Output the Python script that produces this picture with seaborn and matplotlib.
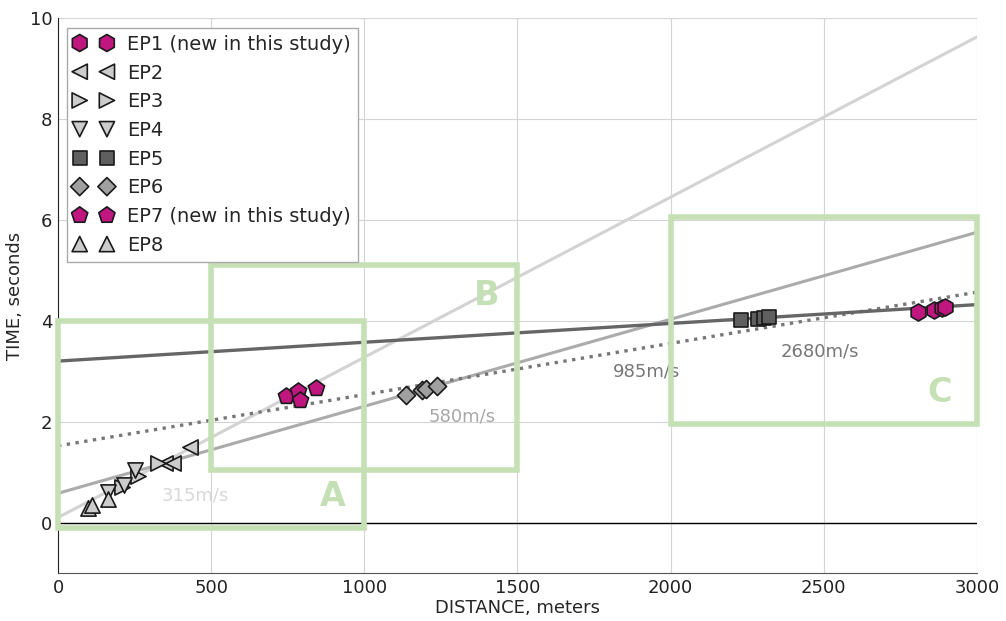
import matplotlib
matplotlib.use("Agg")
import matplotlib.pyplot as plt
import matplotlib.patches as mpatches
import numpy as np
import pandas as pd
import seaborn as sns

# Travel-time picks per event (distance in m, time in s)
ep1_x = [2808, 2860, 2886, 2896]
ep1_y = [4.18, 4.22, 4.26, 4.28]
ep2_x = [349, 375, 431]
ep2_y = [1.19, 1.19, 1.50]
ep3_x = [209, 261, 326]
ep3_y = [0.71, 0.93, 1.19]
ep4_x = [163, 215, 251]
ep4_y = [0.61, 0.75, 1.05]
ep5_x = [2230, 2285, 2305, 2320]
ep5_y = [4.02, 4.03, 4.05, 4.07]
ep6_x = [1136, 1190, 1200, 1237]
ep6_y = [2.53, 2.62, 2.65, 2.70]
ep7_x = [745, 785, 790, 842]
ep7_y = [2.50, 2.60, 2.43, 2.66]
ep8_x = [98, 111, 163]
ep8_y = [0.28, 0.34, 0.46]

event_labels = ["EP1 (new in this study)", "EP2", "EP3", "EP4", "EP5", "EP6",
                "EP7 (new in this study)", "EP8"]

# Apparent velocities (m/s) and intercept times (s) of the fitted lines
velocities = [315, 580, 985, 2680]
intercepts = [0.10, 0.58, 1.52, 3.20]
velocity_text_x = [447, 1319, 1920, 2488]
velocity_text_y = [0.53, 2.10, 3.00, 3.39]

# Zoom regions A, B, C: (x0, x1, y0, y1)
box_names = ["A", "B", "C"]
box_x0 = [0, 500, 2000]
box_x1 = [1000, 1500, 3000]
box_y0 = [-0.1, 1.05, 1.95]
box_y1 = [4.0, 5.1, 6.05]
box_label_x = [898, 1400, 2880]
box_label_y = [0.51, 4.5, 2.57]

x_ticks = [0, 500, 1000, 1500, 2000, 2500, 3000]
y_ticks = [0, 2, 4, 6, 8, 10]

sns.set_style("whitegrid", {"grid.color": "#d4d4d4", "axes.edgecolor": "#333333"})
plt.rcParams["font.family"] = ["DejaVu Sans"]

fig, ax = plt.subplots(figsize=(10.06, 6.21), dpi=100)
fig.subplots_adjust(left=0.0577, right=0.971, top=0.971, bottom=0.0773)

# fitted velocity lines
line_styles = [
    dict(color="#d3d3d3", lw=2.2, ls="-"),
    dict(color="#ababab", lw=2.2, ls="-"),
    dict(color="#777777", lw=2.4, ls=":"),
    dict(color="#666666", lw=2.4, ls="-"),
]
line_x = np.array([0, 3000])
for v, t0, st in zip(velocities, intercepts, line_styles):
    df = pd.DataFrame({"x": line_x, "y": t0 + line_x / v})
    sns.lineplot(data=df, x="x", y="y", ax=ax, color=st["color"],
                 linewidth=st["lw"], linestyle=st["ls"], zorder=2)

ax.axhline(0, color="black", lw=1.0, zorder=2)

text_colors = ["#d8d8d8", "#a8a8a8", "#777777", "#777777"]
for v, tx, ty, c in zip(velocities, velocity_text_x, velocity_text_y, text_colors):
    ax.text(tx, ty, f"{v}m/s", color=c, fontsize=13, ha="center", va="center", zorder=1.5)

# events
series = [
    (ep1_x, ep1_y, "h", "#c0167f", 150),
    (ep2_x, ep2_y, "<", "#cccccc", 120),
    (ep3_x, ep3_y, ">", "#cccccc", 120),
    (ep4_x, ep4_y, "v", "#cccccc", 120),
    (ep5_x, ep5_y, "s", "#5f5f5f", 100),
    (ep6_x, ep6_y, "D", "#a0a0a0", 85),
    (ep7_x, ep7_y, "p", "#c0167f", 150),
    (ep8_x, ep8_y, "^", "#cccccc", 120),
]
for (xs, ys, mk, col, sz), lab in zip(series, event_labels):
    sns.scatterplot(x=xs, y=ys, marker=mk, color=col, s=sz, edgecolor="#1a1a1a",
                    linewidth=1.2, ax=ax, label=lab, zorder=4)

# zoom region boxes
green = "#c5e0b4"
for name, x0, x1, y0, y1, lx, ly in zip(box_names, box_x0, box_x1, box_y0, box_y1,
                                         box_label_x, box_label_y):
    ax.add_patch(mpatches.Rectangle((x0, y0), x1 - x0, y1 - y0, fill=False,
                                    edgecolor=green, lw=4, zorder=3, clip_on=False))
    ax.text(lx, ly, name, color=green, fontsize=24, fontweight="bold",
            ha="center", va="center", zorder=3)

ax.set_xlim(0, 3000)
ax.set_ylim(-1, 10)
ax.set_xticks(x_ticks)
ax.set_yticks(y_ticks)
ax.tick_params(labelsize=13, length=0, pad=4, colors="#222222")
ax.set_xlabel("DISTANCE, meters", fontsize=13, labelpad=2)
ax.set_ylabel("TIME, seconds", fontsize=13, labelpad=4)
for s in ["top", "right"]:
    ax.spines[s].set_visible(False)
ax.spines["left"].set_color("#222222")
ax.spines["bottom"].set_color("#555555")

leg = ax.legend(loc="upper left", scatterpoints=2, scatteryoffsets=[0.5],
                fontsize=14, frameon=True, fancybox=False, edgecolor="#aaaaaa",
                framealpha=1, borderpad=0.35, labelspacing=0.5, handletextpad=0.75,
                handlelength=2.0, borderaxespad=0, bbox_to_anchor=(0.0098, 0.982))
leg.set_zorder(6)

fig.savefig("out.png", dpi=100)
